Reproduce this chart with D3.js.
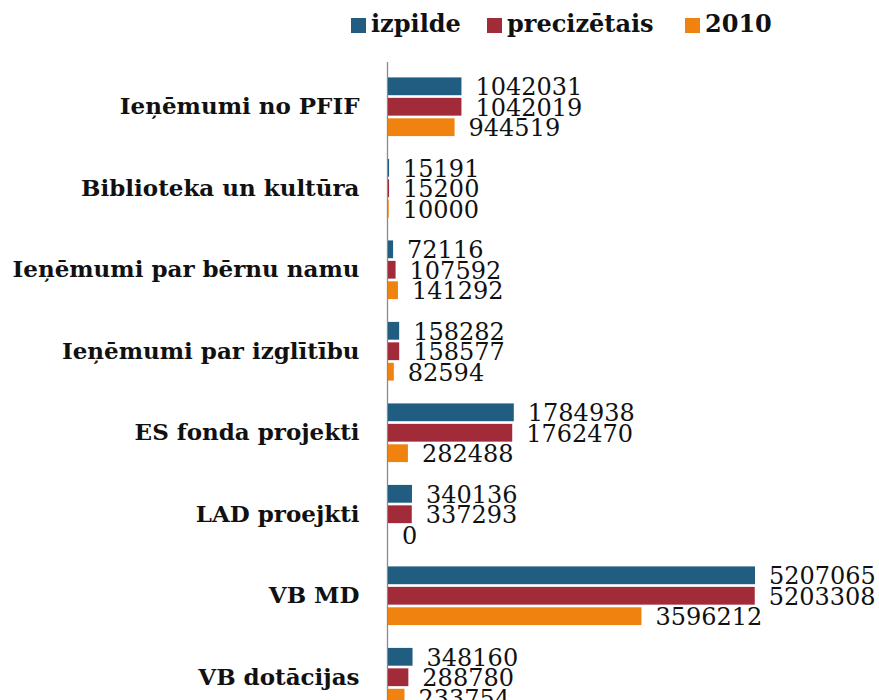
<!DOCTYPE html>
<html>
<head>
<meta charset="utf-8">
<script src="https://cdn.jsdelivr.net/npm/d3@7"></script>
<style>
  body { margin: 0; background: #fff; }
  svg { display: block; }
  .cat text { font-family: "DejaVu Serif", serif; font-weight: bold; font-size: 23px; fill: #111; }
  .val { font-family: "DejaVu Serif", serif; font-size: 24px; fill: #111; }
  .legend text { font-family: "DejaVu Serif", serif; font-weight: bold; font-size: 24px; fill: #111; }
</style>
</head>
<body>
<div id="chart"></div>
<script>
const categories = ['Ieņēmumi no PFIF', 'Biblioteka un kultūra', 'Ieņēmumi par bērnu namu',
    'Ieņēmumi par izglītību', 'ES fonda projekti', 'LAD proejkti', 'VB MD', 'VB dotācijas'];
const seriesNames = ['izpilde', 'precizētais', '2010'];
const izpilde = [1042031, 15191, 72116, 158282, 1784938, 340136, 5207065, 348160];
const precizetais = [1042019, 15200, 107592, 158577, 1762470, 337293, 5203308, 288780];
const y2010 = [944519, 10000, 141292, 82594, 282488, 0, 3596212, 233754];
const colors = ['#215d80', '#a12b38', '#f0820f'];

const width = 879, height = 700;
const values = [izpilde, precizetais, y2010];

const svg = d3.select('#chart').append('svg')
    .attr('width', width)
    .attr('height', height);

const y0 = d3.scaleBand()
    .domain(categories)
    .range([66, 718])
    .paddingInner(0.28)
    .paddingOuter(0.14);

const y1 = d3.scaleBand()
    .domain(seriesNames)
    .range([0, y0.bandwidth()])
    .paddingInner(0.13);

const x = d3.scaleLinear()
    .domain([0, d3.max(values.flat())])
    .range([388, 755]);

// category axis, labels only
const axis = svg.append('g')
    .attr('class', 'cat')
    .attr('transform', 'translate(' + 387.5 + ',0)')
    .call(d3.axisLeft(y0).tickSize(0).tickPadding(28));
axis.attr('font-family', null).attr('font-size', null);
axis.select('.domain')
    .attr('d', 'M0,62V' + height)
    .attr('stroke', '#8a8a8a')
    .attr('stroke-width', 1.3);
axis.selectAll('.tick text')
    .attr('dy', '0.32em');

// bars
const groups = svg.append('g').selectAll('g')
    .data(categories)
    .join('g')
    .attr('transform', d => 'translate(0,' + y0(d) + ')');

groups.selectAll('rect')
    .data((d, i) => seriesNames.map((s, j) => ({ s: s, v: values[j][i], c: colors[j] })))
    .join('rect')
    .attr('x', x(0))
    .attr('y', d => y1(d.s))
    .attr('width', d => x(d.v) - x(0))
    .attr('height', y1.bandwidth())
    .attr('fill', d => d.c);

groups.selectAll('text')
    .data((d, i) => seriesNames.map((s, j) => ({ s: s, v: values[j][i] })))
    .join('text')
    .attr('class', 'val')
    .attr('x', d => x(d.v) + 14)
    .attr('y', d => y1(d.s) + y1.bandwidth() / 2 + 9)
    .text(d => d.v);

// legend
const legendX = [351, 487, 685];
const legend = svg.append('g').attr('class', 'legend')
    .selectAll('g')
    .data(seriesNames)
    .join('g')
    .attr('transform', (d, i) => 'translate(' + legendX[i] + ',0)');
legend.append('rect')
    .attr('x', 0).attr('y', 18)
    .attr('width', 15).attr('height', 15)
    .attr('fill', (d, i) => colors[i]);
legend.append('text')
    .attr('x', 20).attr('y', 32)
    .text(d => d);
</script>
</body>
</html>
